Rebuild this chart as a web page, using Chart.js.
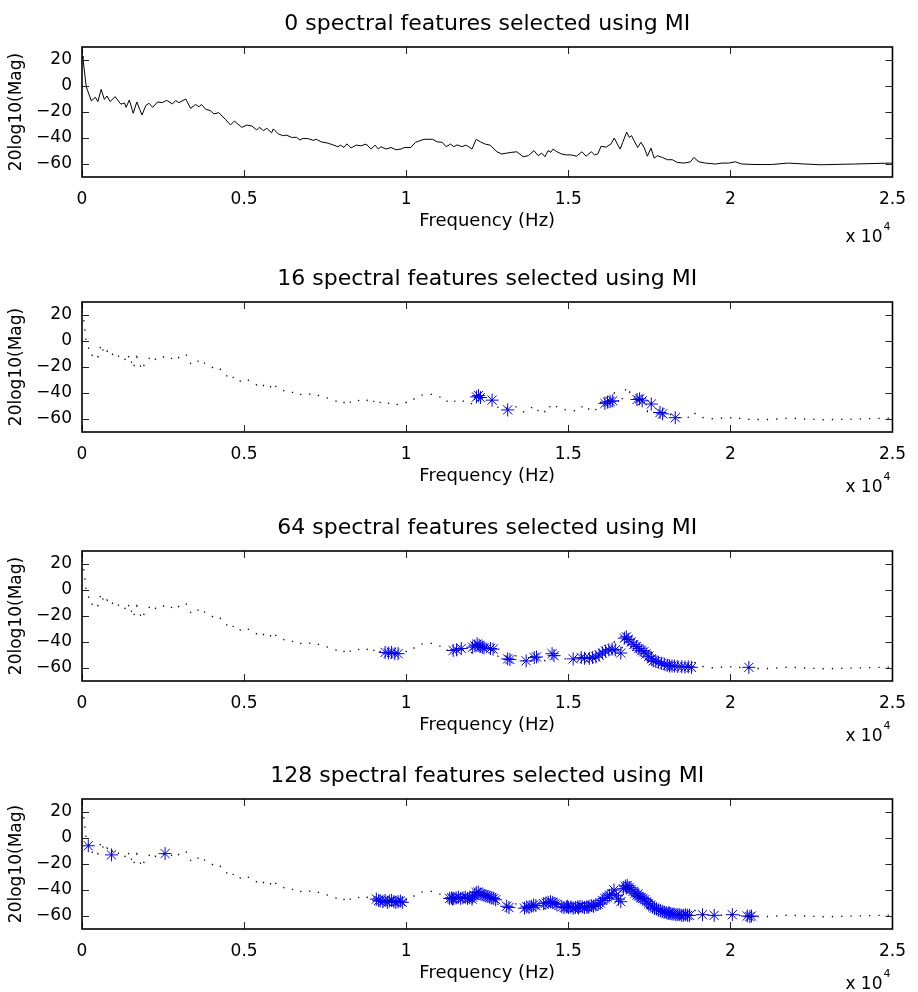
<!DOCTYPE html>
<html>
<head>
<meta charset="utf-8">
<script src="https://cdn.jsdelivr.net/npm/chart.js@4.4.1/dist/chart.umd.min.js"></script>
<style>
  html, body { margin: 0; padding: 0; background: #fff; }
  body { width: 918px; height: 992px; position: relative; overflow: hidden; }
  canvas { position: absolute; left: 0; }
</style>
</head>
<body>
<canvas id="c0"></canvas>
<canvas id="c1"></canvas>
<canvas id="c2"></canvas>
<canvas id="c3"></canvas>
<script>
// spectrum (Hz, dB)
const specFreq = [0, 30, 130, 290, 410, 490, 590, 690, 770, 870, 1020, 1200, 1310, 1360, 1460, 1580, 1690, 1850, 1970, 2070,
  2180, 2330, 2480, 2610, 2790, 2890, 2990, 3200, 3350, 3500, 3610, 3680, 3810, 3960, 4070, 4220, 4420, 4580, 4700, 4930,
  5090, 5240, 5390, 5470, 5600, 5700, 5850, 5900, 6060, 6210, 6310, 6460, 6620, 6720, 6820, 6980, 7130, 7230, 7380, 7590,
  7740, 7890, 7980, 8080, 8170, 8300, 8460, 8610, 8760, 8920, 9040, 9140, 9220, 9380, 9530, 9680, 9840, 9940, 10140, 10290,
  10550, 10810, 10960, 11110, 11230, 11370, 11470, 11570, 11720, 11830, 11930, 12030, 12160, 12290, 12440, 12590, 12800, 12950, 13100, 13260,
  13410, 13610, 13770, 13940, 14070, 14180, 14280, 14380, 14460, 14530, 14630, 14790, 14940, 15090, 15250, 15420, 15550, 15710, 15810, 15910,
  16010, 16170, 16320, 16420, 16510, 16600, 16680, 16800, 16880, 16950, 17030, 17140, 17240, 17340, 17440, 17550, 17650, 17750, 17900, 18060,
  18210, 18360, 18570, 18770, 18870, 19030, 19230, 19540, 19740, 19950, 20150, 20350, 20760, 21270, 21780, 22290, 22800, 23830, 24950, 25000];
const specMag = [23, 21, -0.5, -11.5, -8.7, -12, -2.6, -10.3, -7.7, -12, -8.2, -14, -13, -16.4, -10.8, -21, -12.3, -22.3, -15, -13.3,
  -16.4, -12.3, -12.8, -11, -13.8, -11.2, -12.8, -10, -17.2, -14.2, -16, -14.2, -17.8, -19, -21.5, -20.5, -25.6, -30, -27, -31.8,
  -30, -30.8, -33.8, -31.8, -34.3, -32.5, -36, -33, -37, -38.2, -37.8, -39.5, -39.5, -41.5, -40.3, -40.5, -41.8, -41, -43, -44,
  -45.3, -46.7, -45.5, -47.3, -44.5, -47.6, -45.5, -46, -44.7, -48.5, -45.5, -48.5, -46.7, -48.5, -47.3, -49, -48.5, -47.3, -47.3, -43.3,
  -41, -41, -43, -43.3, -46.7, -44.7, -46.7, -45.3, -46.7, -45.5, -46.7, -48.5, -41, -43, -44.7, -45.5, -50.6, -52.3, -51.6, -51,
  -50.6, -54.4, -53.6, -49.7, -53.6, -51.6, -54.4, -49.7, -51, -48.5, -50.3, -52.3, -53, -53, -54, -50.6, -54, -50.6, -53, -52.3,
  -46.4, -47, -44.5, -40, -44.5, -48.5, -43.3, -35.5, -39.5, -38.2, -42, -47.3, -43.3, -47.3, -54, -47.8, -55.5, -53.6, -55, -56.7,
  -56.7, -58.8, -59.3, -58.3, -55, -58.3, -59.3, -60, -59.3, -59.3, -58.3, -60, -60.4, -60.4, -59.3, -60, -60.6, -60, -59.3, -59.5];

// selected features (Hz, dB)
const sel16Freq = [12170, 12230, 12290, 12650, 13130, 16130, 16210, 16290, 16370, 17120, 17200, 17280, 17560, 17830, 17910, 18300];
const sel16Mag = [-43, -42, -43.5, -45.5, -53, -48, -47, -46.5, -46, -45, -44.5, -46, -48.5, -55, -56, -59];

const sel64Freq = [9350, 9450, 9550, 9650, 9750, 11450, 11550, 11700, 12050, 12120, 12190, 12250, 12300, 12350, 12400, 12600,
  12680, 13130, 13200, 13700, 13950, 14020, 14500, 14560, 15150, 15400, 15500, 15650, 15750, 15850, 15950, 16050,
  16150, 16250, 16350, 16450, 16620, 16730, 16790, 16850, 16940, 17020, 17100, 17180, 17250, 17330, 17400, 17480,
  17560, 17620, 17700, 17780, 17870, 17960, 18050, 18120, 18200, 18280, 18380, 18500, 18600, 18700, 18800, 20570];
const sel64Mag = [-48, -48.5, -48, -49, -49, -46.5, -46, -45, -44, -43, -41.5, -42.5, -43.5, -44, -44.5, -45,
  -45.5, -53, -53.5, -54.5, -52, -51.5, -49, -50.5, -53, -52, -52.5, -52.5, -52, -51.5, -50, -48.5,
  -47, -46, -45.5, -46, -48.5, -37, -36, -38, -40, -42, -43.5, -45, -46.5, -47.5, -49, -51,
  -53, -54.5, -55, -55.5, -56.5, -57, -58, -58.5, -58.5, -58.5, -58.8, -59, -59.3, -59, -59.5, -59.5];

const sel128Freq = [194, 909, 2563,
  9080, 9150, 9200, 9280, 9350, 9420, 9480, 9550, 9620, 9680, 9750, 9820, 9880,
  11340, 11400, 11430, 11470, 11540, 11610, 11680, 11750, 11820, 11890, 11960, 12030, 12050, 12100, 12160, 12220, 12280, 12340,
  12400, 12460, 12520, 12580, 12640, 12700, 12760,
  13100, 13170, 13650, 13720, 13790, 13860, 13930, 14000,
  14240, 14310, 14380, 14450, 14520, 14590, 14650,
  14800, 14870, 14940, 14980, 15010, 15080, 15150, 15220, 15290, 15320, 15360, 15430, 15500, 15570, 15610, 15640, 15710, 15780,
  15850, 15920, 15990,
  16060, 16130, 16200, 16270, 16340, 16410, 16480, 16550, 16620,
  16700, 16760, 16790, 16820, 16880, 16940, 17000, 17060, 17120, 17150, 17180, 17240, 17300, 17360, 17420, 17480, 17540, 17600,
  17660, 17720, 17780, 17840, 17900, 17960, 18020, 18080, 18110, 18140, 18200, 18260, 18320, 18380, 18440, 18500, 18560, 18620,
  18680, 18740,
  19140, 19500, 20060, 20520, 20600, 20650];
const sel128Mag = [-6, -13, -12,
  -47, -48, -48.5, -49, -48, -49.5, -48.5, -48, -49, -49.5, -49, -48.5, -49.5,
  -46.5, -46, -47, -46.5, -46, -45.5, -46.5, -46, -45.5, -46.5, -46, -47, -45.5, -44, -42, -41.5, -43, -43.5,
  -44, -44.5, -45, -45.5, -46, -46.5, -47.5,
  -52.5, -53.5, -54, -53, -53.5, -52.5, -51.5, -52,
  -50.5, -50, -49.5, -49, -49.5, -50.5, -51,
  -53, -53.5, -53, -52.5, -53.5, -53, -54, -53.5, -53, -54, -52.5, -53, -53.5, -53, -53.5, -52.5, -52, -52.5,
  -51.5, -51, -50,
  -48, -46.5, -45.5, -44, -43, -40, -44, -47, -49,
  -39, -37, -38.5, -36.5, -38, -39.5, -41, -42.5, -44, -43, -45, -46, -46.5, -47.5, -49, -50.5, -51.5, -53,
  -54, -54.5, -55.5, -56, -56.5, -57, -57.5, -58, -57.5, -58, -58.5, -58.5, -59, -59, -59, -59.5, -59.5, -59,
  -59.5, -59.5,
  -59, -59.5, -59, -60, -60.5, -60];

const featureCounts = [0, 16, 64, 128];
const selFreq = [[], sel16Freq, sel64Freq, sel128Freq];
const selMag = [[], sel16Mag, sel64Mag, sel128Mag];

const xTicks = [0, 5000, 10000, 15000, 20000, 25000];
const xTickLabels = ['0', '0.5', '1', '1.5', '2', '2.5'];
const yTicks = [-60, -40, -20, 0, 20];

const frameTops = [47, 302, 551, 799];
const FONT = '"DejaVu Sans", "Liberation Sans", sans-serif';

const frameAxes = {
    id: 'frameAxes',
    afterDatasetsDraw(chart, args, opts) {
        const { ctx, chartArea: a, scales: { x, y } } = chart;
        const cx = (a.left + a.right) / 2;
        ctx.save();
        ctx.strokeStyle = '#222';
        ctx.lineWidth = 1;
        ctx.beginPath();
        x.ticks.forEach(t => {
            const px = Math.round(x.getPixelForValue(t.value)) + 0.5;
            ctx.moveTo(px, a.bottom); ctx.lineTo(px, a.bottom - 7);
            ctx.moveTo(px, a.top); ctx.lineTo(px, a.top + 7);
        });
        y.ticks.forEach(t => {
            const py = Math.round(y.getPixelForValue(t.value)) + 0.5;
            ctx.moveTo(a.left, py); ctx.lineTo(a.left + 7, py);
            ctx.moveTo(a.right, py); ctx.lineTo(a.right - 7, py);
        });
        ctx.stroke();
        ctx.strokeStyle = '#000';
        ctx.lineWidth = 1.6;
        ctx.strokeRect(a.left, a.top, a.right - a.left, a.bottom - a.top);

        ctx.fillStyle = '#000';
        ctx.textBaseline = 'alphabetic';
        ctx.textAlign = 'center';
        ctx.font = '22px ' + FONT;
        ctx.fillText(opts.title, cx, a.top - 17.5);
        ctx.font = '18px ' + FONT;
        ctx.fillText('Frequency (Hz)', cx, a.bottom + 49);

        ctx.textAlign = 'right';
        ctx.font = '17px ' + FONT;
        ctx.fillText('x 10', a.right - 10, a.bottom + opts.expOffset);
        ctx.textAlign = 'left';
        ctx.font = '11px ' + FONT;
        ctx.fillText('4', a.right - 9, a.bottom + opts.expOffset - 12);

        ctx.translate(17, (a.top + a.bottom) / 2);
        ctx.rotate(-Math.PI / 2);
        ctx.textAlign = 'center';
        ctx.textBaseline = 'middle';
        ctx.font = '17px ' + FONT;
        ctx.fillText('20log10(Mag)', 0, 0);
        ctx.restore();
    }
};

const spectrum = specFreq.map((f, i) => ({ x: f, y: specMag[i] }));

featureCounts.forEach((n, i) => {
    const canvas = document.getElementById('c' + i);
    canvas.width = 918;
    canvas.height = 250;
    canvas.style.top = (frameTops[i] - 47) + 'px';

    const datasets = [{
        data: spectrum,
        showLine: true,
        borderColor: '#000',
        borderWidth: i === 0 ? 1 : 1.3,
        borderDash: i === 0 ? [] : [1.3, 8],
        pointRadius: 0,
        fill: false,
        tension: 0
    }];
    if (n > 0) {
        datasets.push({
            data: selFreq[i].map((f, k) => ({ x: f, y: selMag[i][k] })),
            showLine: false,
            pointStyle: 'star',
            pointRadius: 6.5,
            borderColor: '#0000ff',
            backgroundColor: '#0000ff',
            borderWidth: 1
        });
    }

    new Chart(canvas, {
        type: 'scatter',
        data: { datasets },
        options: {
            responsive: false,
            animation: false,
            events: [],
            layout: { padding: { left: 0, right: 21, top: 47, bottom: 0 } },
            plugins: {
                legend: { display: false },
                tooltip: { enabled: false },
                frameAxes: { title: n + ' spectral features selected using MI', expOffset: i === 0 ? 65 : 60 }
            },
            scales: {
                x: {
                    type: 'linear', min: 0, max: 25000,
                    grid: { display: false, drawTicks: false },
                    border: { display: false },
                    afterBuildTicks: s => { s.ticks = xTicks.map(v => ({ value: v })); },
                    afterFit: s => { s.height = 73; },
                    ticks: {
                        padding: 12, color: '#000', maxRotation: 0,
                        font: { family: FONT, size: 17 },
                        callback: (v) => xTickLabels[xTicks.indexOf(v)]
                    }
                },
                y: {
                    type: 'linear', min: -70, max: 30,
                    grid: { display: false, drawTicks: false },
                    border: { display: false },
                    afterBuildTicks: s => { s.ticks = yTicks.map(v => ({ value: v })); },
                    afterFit: s => { s.width = 82; },
                    ticks: {
                        padding: 10, color: '#000',
                        font: { family: FONT, size: 17 },
                        callback: (v) => String(v).replace('-', '\u2212')
                    }
                }
            }
        },
        plugins: [frameAxes]
    });
});
</script>
</body>
</html>
